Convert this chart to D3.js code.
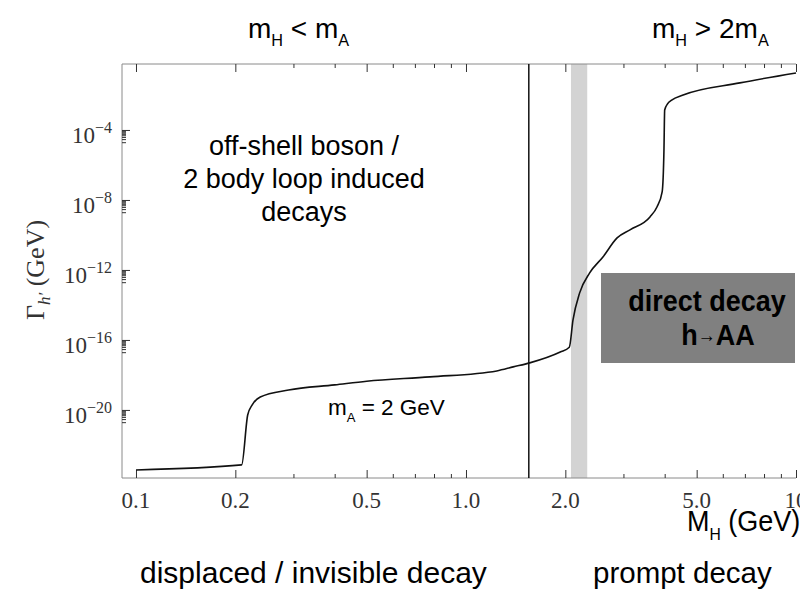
<!DOCTYPE html>
<html>
<head>
<meta charset="utf-8">
<script src="https://cdn.jsdelivr.net/npm/d3@7"></script>
<style>
  html, body { margin: 0; padding: 0; background: #fff; }
  svg { display: block; }
  .sans { font-family: "Liberation Sans", Arial, sans-serif; fill: #000; }
  .serif { font-family: "Liberation Serif", "Times New Roman", serif; fill: #333; }
</style>
</head>
<body>
<svg id="chart" width="800" height="590"></svg>
<script>
// Higgs-portal scalar width versus its mass (m_A = 2 GeV)
const massGeV = [0.1, 0.209, 0.218, 0.225, 0.238, 0.29, 0.4, 0.5, 0.778, 1.24, 1.39, 1.56, 1.93,
                 2.056, 2.11, 2.21, 2.37, 2.6, 2.87, 3.14, 3.61, 3.79, 3.93, 3.98, 4.0, 4.08, 4.2,
                 4.55, 6.76, 10];
const log10Width = [-23.43, -23.14, -20.29, -19.71, -19.26, -18.86, -18.57, -18.36, -18.11, -17.77,
                    -17.54, -17.31, -16.69, -16.42, -14.86, -13.31, -12.17, -11.26, -10.17, -9.71,
                    -8.97, -8.4, -7.54, -5.14, -2.86, -2.51, -2.29, -2.0, -1.31, -0.74];

const xMajorTicks = [0.1, 0.2, 0.5, 1, 2, 5, 10];
const xTickLabels = ["0.1", "0.2", "0.5", "1.0", "2.0", "5.0", "10"];
const xMinorTicks = [0.3, 0.4, 0.6, 0.7, 0.8, 0.9, 3, 4, 6, 7, 8, 9];
const yMajorExponents = [-4, -8, -12, -16, -20];
const yMinorMantissas = [2, 3, 4, 5, 6, 7, 8, 9];

const thresholdMass = 1.55;          // vertical divider
const bandMass = [2.08, 2.33];       // shaded band around 2 m_A

const svg = d3.select("#chart");
const plotLeft = 122, plotRight = 796, plotTop = 64, plotBottom = 478;

const x = d3.scaleLog().domain([0.0907, 10]).range([plotLeft, plotRight]);
const y = d3.scaleLog().domain([Math.pow(10, -23.89), Math.pow(10, -0.23)]).range([plotBottom, plotTop]);

// shaded band
svg.append("rect")
  .attr("x", x(bandMass[0])).attr("y", plotTop)
  .attr("width", x(bandMass[1]) - x(bandMass[0])).attr("height", plotBottom - plotTop)
  .attr("fill", "#d3d3d3");

// "direct decay" box
svg.append("rect")
  .attr("x", 601).attr("y", 273).attr("width", 194).attr("height", 90)
  .attr("fill", "#808080");

// frame
const frameColor = "#8a8a8a", tickColor = "#333";
svg.append("line").attr("x1", plotLeft).attr("x2", plotRight).attr("y1", plotBottom).attr("y2", plotBottom)
  .attr("stroke", frameColor);
svg.append("line").attr("x1", plotLeft).attr("x2", plotRight).attr("y1", plotTop).attr("y2", plotTop)
  .attr("stroke", frameColor);
svg.append("line").attr("x1", plotLeft).attr("x2", plotLeft).attr("y1", plotTop).attr("y2", plotBottom)
  .attr("stroke", frameColor);

function styleAxis(g) {
  g.select(".domain").remove();
  g.selectAll(".tick line").attr("stroke", tickColor);
}

// x axes (ticks point inward)
svg.append("g").attr("transform", `translate(0,${plotBottom})`)
  .call(d3.axisBottom(x).tickValues(xMajorTicks).tickSize(-8).tickSizeOuter(0).tickFormat(""))
  .call(styleAxis);
svg.append("g").attr("transform", `translate(0,${plotBottom})`)
  .call(d3.axisBottom(x).tickValues(xMinorTicks).tickSize(-4).tickSizeOuter(0).tickFormat(""))
  .call(styleAxis);
svg.append("g").attr("transform", `translate(0,${plotTop})`)
  .call(d3.axisTop(x).tickValues(xMajorTicks).tickSize(-8).tickSizeOuter(0).tickFormat(""))
  .call(styleAxis);
svg.append("g").attr("transform", `translate(0,${plotTop})`)
  .call(d3.axisTop(x).tickValues(xMinorTicks).tickSize(-4).tickSizeOuter(0).tickFormat(""))
  .call(styleAxis);

svg.append("g").selectAll("text").data(xMajorTicks).join("text")
  .attr("class", "serif")
  .attr("x", d => x(d)).attr("y", 508)
  .attr("text-anchor", "middle").attr("font-size", 23)
  .text((d, i) => xTickLabels[i]);

// y axis
const yMajor = yMajorExponents.map(e => Math.pow(10, e));
const yMinor = yMajorExponents.flatMap(e => yMinorMantissas.map(m => m * Math.pow(10, e - 1)));
svg.append("g").attr("transform", `translate(${plotLeft},0)`)
  .call(d3.axisLeft(y).tickValues(yMajor).tickSize(-8).tickSizeOuter(0).tickFormat(""))
  .call(styleAxis);
svg.append("g").attr("transform", `translate(${plotLeft},0)`)
  .call(d3.axisLeft(y).tickValues(yMinor).tickSize(-4).tickSizeOuter(0).tickFormat(""))
  .call(styleAxis);

const yLab = svg.append("g").selectAll("text").data(yMajorExponents).join("text")
  .attr("class", "serif")
  .attr("x", 112).attr("y", e => y(Math.pow(10, e)) + 13)
  .attr("text-anchor", "end").attr("font-size", 23);
yLab.append("tspan").text("10");
yLab.append("tspan").attr("font-size", 16).attr("dy", -10).text(e => "\u2212" + Math.abs(e));

// y title
const yTitle = svg.append("text").attr("class", "serif")
  .attr("transform", "translate(44,270) rotate(-90)")
  .attr("text-anchor", "middle").attr("font-size", 26);
yTitle.append("tspan").text("\u0393");
yTitle.append("tspan").attr("font-size", 17).attr("font-style", "italic").attr("dy", 6).text("h\u2032");
yTitle.append("tspan").attr("dy", -6).text(" (GeV)");

// divider line
svg.append("line")
  .attr("x1", x(thresholdMass)).attr("x2", x(thresholdMass))
  .attr("y1", plotTop).attr("y2", plotBottom)
  .attr("stroke", "#111").attr("stroke-width", 1.5);

// width curve
const pts = massGeV.map((m, i) => [m, Math.pow(10, log10Width[i])]);
svg.append("path")
  .datum(pts)
  .attr("fill", "none").attr("stroke", "#111").attr("stroke-width", 1.6)
  .attr("d", d3.line().x(d => x(d[0])).y(d => y(d[1])).curve(d3.curveMonotoneX));

// annotations
function label(xp, yp, sx, size, anchor, parts, weight) {
  const g = svg.append("g").attr("transform", `translate(${xp},${yp}) scale(${sx},1)`);
  const t = g.append("text").attr("class", "sans").attr("font-size", size)
    .attr("text-anchor", anchor).attr("font-weight", weight || "normal");
  let shift = 0;
  parts.forEach(p => {
    const targetShift = p.sub ? size * 0.3 : (p.raise ? -p.raise : 0);
    const ts = t.append("tspan").text(p.t)
      .attr("font-size", p.sub ? size * 0.58 : (p.size || size));
    if (targetShift !== shift) { ts.attr("dy", targetShift - shift); shift = targetShift; }
  });
  return t;
}

label(248, 38, 1, 28, "start", [{t: "m"}, {t: "H", sub: true}, {t: " < m"}, {t: "A", sub: true}]);
label(652, 38, 1, 28, "start", [{t: "m"}, {t: "H", sub: true}, {t: " > 2m"}, {t: "A", sub: true}]);

label(304, 155, 1, 27, "middle", [{t: "off-shell boson /"}]);
label(304, 188, 1, 27, "middle", [{t: "2 body loop induced"}]);
label(304, 221, 1, 27, "middle", [{t: "decays"}]);

label(328, 415, 1, 22.5, "start", [{t: "m"}, {t: "A", sub: true}, {t: " = 2 GeV"}]);

label(707, 311, 0.9, 30, "middle", [{t: "direct decay"}], "bold");
label(718, 345, 0.9, 30, "middle", [{t: "h"}, {t: "\u2192", size: 20, raise: 3}, {t: "AA"}], "bold");

label(687, 531, 0.9, 30, "start", [{t: "M"}, {t: "H", sub: true}, {t: " (GeV)"}]);

label(140, 583, 1, 30, "start", [{t: "displaced / invisible decay"}]);
label(593, 583, 1, 29.5, "start", [{t: "prompt decay"}]);
</script>
</body>
</html>
